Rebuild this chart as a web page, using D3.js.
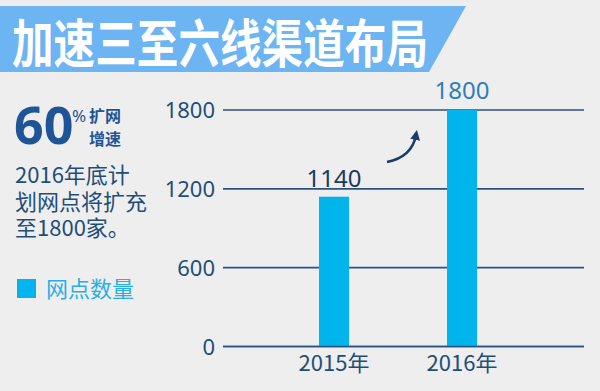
<!DOCTYPE html>
<html><head><meta charset="utf-8">
<script src="https://cdn.jsdelivr.net/npm/d3@7"></script>
<style>html,body{margin:0;padding:0;background:#eeeeee;}svg{display:block;}</style>
</head><body>
<script>
const title = "加速三至六线渠道布局";
const categories = ["2015年", "2016年"];
const values = [1140, 1800];
const yTicks = [0, 600, 1200, 1800];
const noteLines = ["2016年底计", "划网点将扩充", "至1800家。"];
const legendLabel = "网点数量";
const bigNumber = "60";
const bigLabel = ["扩网", "增速"];

const W = 600, H = 391;
const svg = d3.select("body").append("svg").attr("width", W).attr("height", H);
svg.append("rect").attr("width", W).attr("height", H).attr("fill", "#eeeeee");

const cjk = "'Noto Sans CJK SC', 'Noto Sans', sans-serif";
const latin = "'Noto Sans', 'Noto Sans CJK SC', sans-serif";

// banner
svg.append("path").attr("d", "M0,6 L466,6 L429,72 L0,72 Z").attr("fill", "#6db4f3");
svg.append("text").attr("x", 12).attr("y", 63).text(title)
  .attr("font-family", cjk).attr("font-weight", 700).attr("font-size", 52)
  .attr("fill", "#ffffff").attr("textLength", 416).attr("lengthAdjust", "spacingAndGlyphs");

// left panel
svg.append("text").attr("x", 14).attr("y", 144).text(bigNumber)
  .attr("font-family", latin).attr("font-weight", 700).attr("font-size", 52).attr("fill", "#1f5596");
svg.append("text").attr("x", 72).attr("y", 122).text("%")
  .attr("font-family", latin).attr("font-size", 17).attr("fill", "#1f5596");
const bl = svg.append("text").attr("font-family", cjk).attr("font-weight", 700)
  .attr("font-size", 16).attr("fill", "#1f5596");
bigLabel.forEach((t, i) => bl.append("tspan").attr("x", 89).attr("y", 122 + i * 23).text(t));
const note = svg.append("text").attr("font-family", cjk).attr("font-size", 22).attr("fill", "#1f4e79");
noteLines.forEach((t, i) => note.append("tspan").attr("x", 15).attr("y", 183 + i * 26.5).text(t));

// legend
svg.append("rect").attr("x", 17).attr("y", 279).attr("width", 19).attr("height", 19).attr("fill", "#00b5ef");
svg.append("text").attr("x", 46).attr("y", 297).text(legendLabel)
  .attr("font-family", cjk).attr("font-size", 22).attr("fill", "#2aaee6");

// chart
const y = d3.scaleLinear().domain([0, 1800]).range([346.5, 110]);
const x = d3.scalePoint().domain(categories).range([206, 590]).padding(1);
const barW = 30;

svg.append("g").selectAll("line").data(yTicks).join("line")
  .attr("x1", 223).attr("x2", 584).attr("y1", d => y(d)).attr("y2", d => y(d))
  .attr("stroke", "#2b5280").attr("stroke-width", 1.6);
svg.append("g").selectAll("text").data(yTicks).join("text")
  .attr("x", 215).attr("y", d => y(d) + 8).attr("text-anchor", "end").text(d => d)
  .attr("font-family", latin).attr("font-size", 22).attr("fill", "#1f4e79");

svg.append("g").selectAll("rect").data(values).join("rect")
  .attr("x", (d, i) => x(categories[i]) - barW / 2).attr("width", barW)
  .attr("y", d => y(d)).attr("height", d => y(0) - y(d)).attr("fill", "#00b5ec");

// redraw zero line over bars
svg.append("line").attr("x1", 223).attr("x2", 584).attr("y1", y(0)).attr("y2", y(0))
  .attr("stroke", "#2b5280").attr("stroke-width", 1.6);

const labelColors = ["#1b3a5f", "#2f7fb5"];
svg.append("g").selectAll("text").data(values).join("text")
  .attr("x", (d, i) => x(categories[i])).attr("y", (d, i) => i === 0 ? 187 : 99)
  .attr("text-anchor", "middle").text(d => d)
  .attr("font-family", latin).attr("font-size", 24).attr("fill", (d, i) => labelColors[i]);

svg.append("g").selectAll("text").data(categories).join("text")
  .attr("x", d => x(d)).attr("y", 371).attr("text-anchor", "middle").text(d => d)
  .attr("font-family", cjk).attr("font-size", 22).attr("fill", "#1f4e79");

// arrow
svg.append("defs").append("marker").attr("id", "ah").attr("viewBox", "0 0 10 10")
  .attr("refX", 5).attr("refY", 5).attr("markerWidth", 4).attr("markerHeight", 4)
  .attr("orient", "auto").append("path").attr("d", "M0,0 L10,5 L0,10 Z").attr("fill", "#1a3d6b");
const p = d3.path();
p.moveTo(387, 162); p.quadraticCurveTo(412, 157, 416, 135);
svg.append("path").attr("d", p.toString()).attr("fill", "none").attr("stroke", "#1a3d6b")
  .attr("stroke-width", 2.5).attr("marker-end", "url(#ah)");
</script>
</body></html>
